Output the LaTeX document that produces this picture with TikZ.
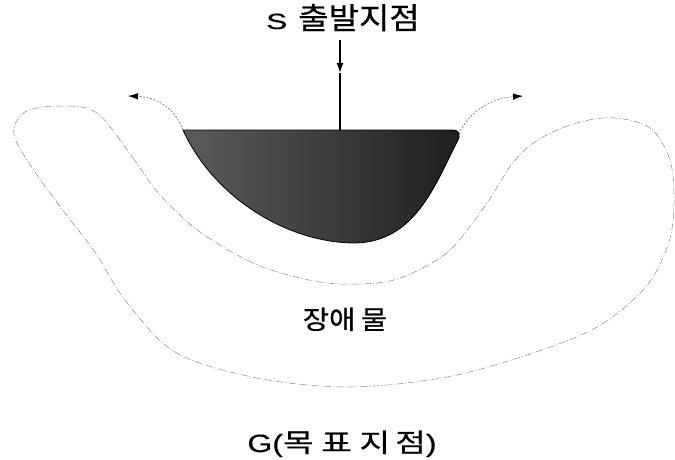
\documentclass[tikz,border=0pt]{standalone}
\usepackage{fontspec}
\setmainfont{Noto Sans CJK KR}[FakeBold=0.5]
\newfontfamily\latinfont{Liberation Sans}[FakeBold=0.4]
\usetikzlibrary{arrows.meta,positioning,calc}
\newcommand{\lblsize}[1]{\fontsize{#1}{#1}\selectfont}

\begin{document}
\begin{tikzpicture}[x=1pt,y=-1pt,
  label/.style={inner sep=0pt,anchor=base,transform shape},
  obstacle/.style={draw=black!45,line width=0.5pt,dash pattern=on 7pt off 2pt on 1pt off 2pt},
  escape/.style={draw=black!55,line width=0.6pt,dash pattern=on 2pt off 1.5pt,-{Latex[length=10pt,width=6.5pt,black]}},
  region/.style={left color=black!64,right color=black!88,draw=black,line width=0.8pt}]
\useasboundingbox (0,0) rectangle (675,460);
% obstacle
\draw[obstacle] plot[smooth cycle,tension=0.55] coordinates {
  (97,113) (133,158) (160,195) (200,232) (253,263) (300,278) (340,284) (390,281)
  (430,264) (455,245) (487,203) (515,160) (543,137) (580,122) (615,118) (650,128)
  (670,160) (674,205) (668,245) (645,288) (597,327) (530,354) (447,377) (350,387)
  (257,378) (175,352) (125,300) (97,255) (65,213) (35,172) (14,135) (25,112) (60,106)};
% local minimum
\coordinate (tl) at (183,130);
\coordinate (tr) at (459,134);
\coordinate (top) at (340,130);
\path[region] (tl) -- (452,130) .. controls (460,130) and (461,135) .. (457,142)
  .. controls (435,185) and (415,242) .. (355,243)
  .. controls (290,243) and (215,200) .. (tl) -- cycle;
% labels
\node[label,xscale=1.1] (start) at (343,29)
  {{\latinfont\lblsize{22}\scalebox{1.3}[1]{S}}\hspace{10pt}\lblsize{30}출발지점};
\node[label,xscale=1.1] (obs) at (345,329) {\lblsize{26}장애\hspace{5pt}물};
\node[label,xscale=1.28] (goal) at (342,452)
  {{\latinfont\lblsize{25}G(}\lblsize{26}목\kern6pt 표\kern6pt 지\kern4pt 점{\latinfont\lblsize{25})}};
% arrows
\coordinate (tipS) at (340,73);
\coordinate (fromS) at (340,40);
\path[-{Latex[length=10pt,width=7pt]},line width=1.4pt] (fromS) edge (tipS);
\path[line width=1.4pt] (tipS) edge (top);
\draw[escape] (tl) .. controls (176,110) and (158,97) .. (128,96);
\draw[escape] (tr) .. controls (468,112) and (492,98) .. (523,96);
\end{tikzpicture}
\end{document}
